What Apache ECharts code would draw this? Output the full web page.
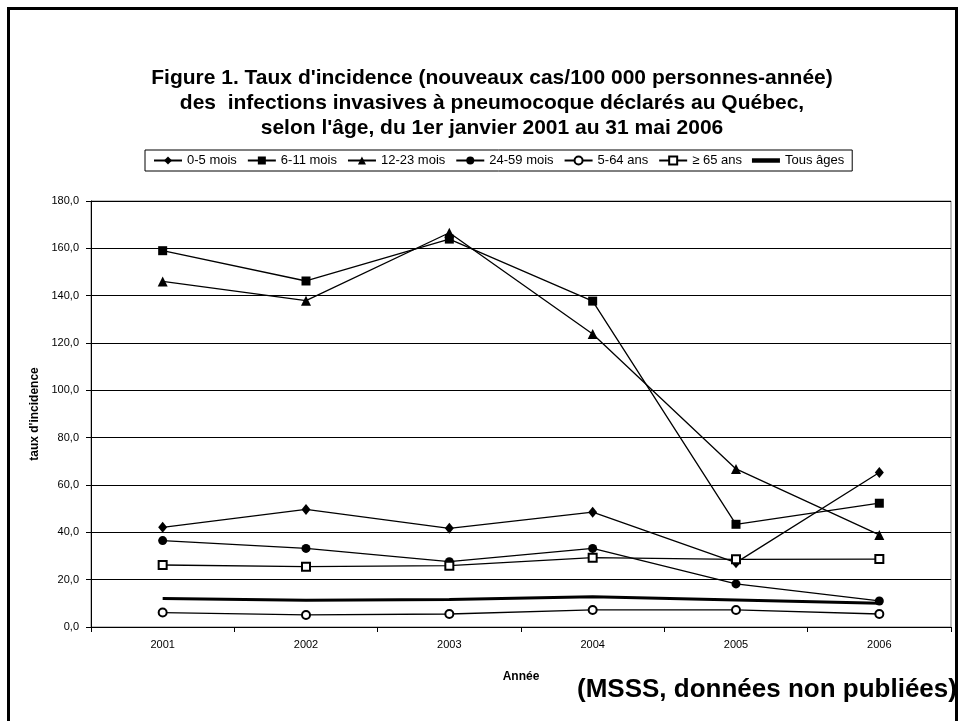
<!DOCTYPE html>
<html>
<head>
<meta charset="utf-8">
<script src="https://cdn.jsdelivr.net/npm/echarts@6/dist/echarts.min.js"></script>
<style>
  html, body { margin: 0; padding: 0; background: #fff; }
  #chart { width: 960px; height: 721px; }
</style>
</head>
<body>
<div id="chart"></div>
<script>
const years = ['2001', '2002', '2003', '2004', '2005', '2006']
const mois0_5 = [42.1, 49.7, 41.7, 48.5, 27.2, 65.3]
const mois6_11 = [159.0, 146.2, 163.9, 137.7, 43.4, 52.3]
const mois12_23 = [146.0, 137.9, 166.6, 123.8, 66.8, 38.9]
const mois24_59 = [36.5, 33.2, 27.6, 33.2, 18.2, 11.0]
const ans5_64 = [6.1, 5.1, 5.5, 7.2, 7.2, 5.5]
const ans65 = [26.2, 25.5, 25.9, 29.3, 28.6, 28.7]
const tousAges = [12.0, 11.3, 11.6, 12.8, 11.4, 10.0]

const font = "'Liberation Sans', Arial, sans-serif"

function line(name, data, symbol, size, extra) {
  return Object.assign({
    name: name,
    type: 'line',
    data: data,
    symbol: symbol,
    symbolSize: size,
    lineStyle: { color: '#000', width: 1.3 },
    itemStyle: { color: '#000', borderWidth: 1 },
    emphasis: { disabled: true },
    animation: false
  }, extra || {})
}

const chart = echarts.init(document.getElementById('chart'))
chart.setOption({
  animation: false,
  textStyle: { fontFamily: font, color: '#000' },
  grid: {
    left: 91, right: 9, top: 201, bottom: 94,
    show: true, borderColor: '#808080', borderWidth: 1
  },
  legend: {
    left: 145, top: 150,
    padding: [4, 8, 4, 8],
    borderColor: '#000', borderWidth: 1,
    itemWidth: 28, itemHeight: 10, itemGap: 10,
    textStyle: { fontSize: 13, fontFamily: font, color: '#000' },
    data: [
      '0-5 mois', '6-11 mois', '12-23 mois', '24-59 mois', '5-64 ans', '≥ 65 ans',
      { name: 'Tous âges', icon: 'path://M0,4.2h10v1.6h-10z' }
    ]
  },
  xAxis: {
    type: 'category',
    data: years,
    boundaryGap: true,
    name: 'Année',
    nameLocation: 'middle',
    nameGap: 44,
    nameTextStyle: { fontSize: 12, fontWeight: 'bold', fontFamily: font },
    axisLine: { lineStyle: { color: '#000', width: 1 } },
    axisTick: { show: true, length: 5, lineStyle: { color: '#000' } },
    axisLabel: { fontSize: 11, color: '#000', margin: 12 },
    splitLine: { show: false }
  },
  yAxis: {
    type: 'value',
    min: 0, max: 180, interval: 20,
    name: "taux d'incidence",
    nameLocation: 'middle',
    nameRotate: 90,
    nameGap: 48,
    nameTextStyle: { fontSize: 12, fontWeight: 'bold', fontFamily: font },
    axisLine: { show: true, lineStyle: { color: '#000', width: 1 } },
    axisTick: { show: true, length: 5, lineStyle: { color: '#000' } },
    axisLabel: {
      fontSize: 11, color: '#000', margin: 12,
      formatter: v => v.toFixed(1).replace('.', ',')
    },
    splitLine: { show: true, lineStyle: { color: '#000', width: 1 } }
  },
  series: [
    line('0-5 mois', mois0_5, 'diamond', [9, 11]),
    line('6-11 mois', mois6_11, 'rect', 9),
    line('12-23 mois', mois12_23, 'triangle', 10),
    line('24-59 mois', mois24_59, 'circle', 9),
    line('5-64 ans', ans5_64, 'emptyCircle', 8),
    line('≥ 65 ans', ans65, 'emptyRect', 8),
    line('Tous âges', tousAges, 'none', 0, {
      showSymbol: false,
      lineStyle: { color: '#000', width: 3 }
    })
  ],
  graphic: [
    {
      type: 'rect', silent: true, z: -1,
      shape: { x: 8.5, y: 8.5, width: 948, height: 730 },
      style: { fill: 'none', stroke: '#000', lineWidth: 3 }
    },
    {
      type: 'text', silent: true,
      style: {
        x: 492, y: 66, textAlign: 'center',
        text: "Figure 1. Taux d'incidence (nouveaux cas/100 000 personnes-année)\ndes  infections invasives à pneumocoque déclarés au Québec,\nselon l'âge, du 1er janvier 2001 au 31 mai 2006",
        font: 'bold 21px ' + font,
        lineHeight: 25,
        fill: '#000'
      }
    },
    {
      type: 'text', silent: true,
      style: {
        x: 577, y: 677,
        text: '(MSSS, données non publiées)',
        font: 'bold 26px ' + font,
        fill: '#000'
      }
    }
  ]
})
</script>
</body>
</html>
